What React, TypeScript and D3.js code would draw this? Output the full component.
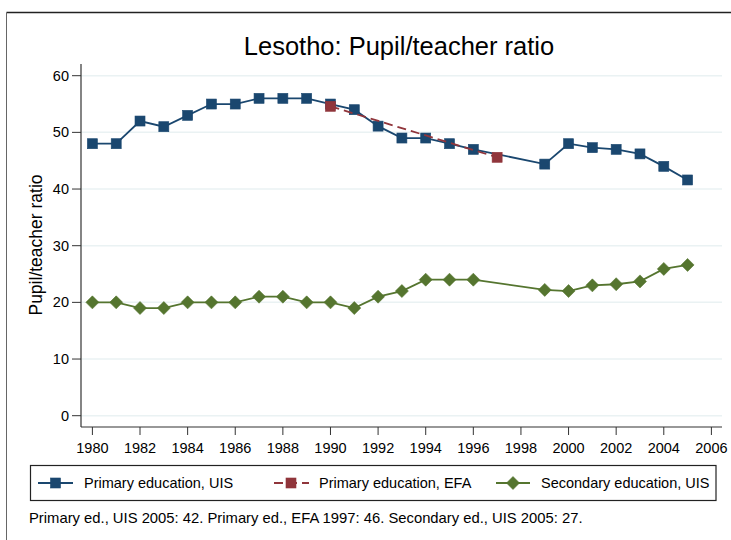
import React from "react";
import * as d3 from "d3";

const years = [1980,1981,1982,1983,1984,1985,1986,1987,1988,1989,1990,1991,1992,1993,1994,1995,1996,1999,2000,2001,2002,2003,2004,2005];
const primaryUIS = [48,48,52,51,53,55,55,56,56,56,55,54,51.1,49,49,48,47,44.4,48,47.3,47,46.2,44,41.6];
const efaYears = [1990, 1997];
const primaryEFA = [54.6, 45.6];
const secondaryUIS = [20,20,19,19,20,20,20,21,21,20,20,19,21,22,24,24,24,22.2,22,23,23.2,23.7,25.9,26.6];
const xTicks = [1980,1982,1984,1986,1988,1990,1992,1994,1996,1998,2000,2002,2004,2006];
const yTicks = [0,10,20,30,40,50,60];

const BLUE = "#1a476f";
const RED = "#90353b";
const GREEN = "#55752f";
const FONT = "Liberation Sans, Arial, sans-serif";

export default function App() {
  const x = d3.scaleLinear().domain([1980, 2006]).range([92.4, 711.4]);
  const y = d3.scaleLinear().domain([0, 60]).range([415.7, 75.7]);
  const plotL = 81, plotR = 722, plotT = 64, plotB = 427;

  const line = d3.line<[number, number]>().x(d => x(d[0])).y(d => y(d[1]));
  const pUIS: [number, number][] = years.map((yr, i) => [yr, primaryUIS[i]]);
  const pEFA: [number, number][] = efaYears.map((yr, i) => [yr, primaryEFA[i]]);
  const sUIS: [number, number][] = years.map((yr, i) => [yr, secondaryUIS[i]]);

  const sq = (cx: number, cy: number, color: string, key: any) => (
    <rect key={key} x={cx - 5} y={cy - 5} width={10} height={10} fill={color} stroke={color} strokeWidth={0.6} />
  );
  const dia = (cx: number, cy: number, color: string, key: any) => (
    <path key={key} d={`M${cx},${cy - 6.5}L${cx + 6.5},${cy}L${cx},${cy + 6.5}L${cx - 6.5},${cy}Z`} fill={color} stroke={color} strokeWidth={0.6} />
  );

  const legY = 483;
  return (
    <svg width={731} height={540} style={{ position: "absolute", left: 0, top: 0, background: "#fff" }} fontFamily={FONT}>
      <rect x={0} y={0} width={731} height={540} fill="#fff" />
      {/* outer frame */}
      <line x1={6.5} y1={12.5} x2={731} y2={12.5} stroke="#222" strokeWidth={1.5} />
      <line x1={6.5} y1={12.5} x2={6.5} y2={540} stroke="#666" strokeWidth={1} />

      <text x={399} y={55} textAnchor="middle" fontSize={25.5} fill="#000">Lesotho: Pupil/teacher ratio</text>

      {/* gridlines */}
      {yTicks.map(t => (
        <line key={"g" + t} x1={plotL} x2={plotR} y1={y(t)} y2={y(t)} stroke="#eaf2f3" strokeWidth={1.5} />
      ))}

      {/* axes */}
      <line x1={plotL} x2={plotL} y1={plotT} y2={plotB} stroke="#333" strokeWidth={1.2} />
      <line x1={plotL} x2={plotR} y1={plotB} y2={plotB} stroke="#333" strokeWidth={1.2} />
      {yTicks.map(t => (
        <g key={"yt" + t}>
          <line x1={72} x2={plotL} y1={y(t)} y2={y(t)} stroke="#333" strokeWidth={1} />
          <text x={69} y={y(t) + 5} textAnchor="end" fontSize={14.5} fill="#000">{t}</text>
        </g>
      ))}
      {xTicks.map(t => (
        <g key={"xt" + t}>
          <line x1={x(t)} x2={x(t)} y1={plotB} y2={plotB + 8} stroke="#333" strokeWidth={1} />
          <text x={x(t)} y={453} textAnchor="middle" fontSize={14.5} fill="#000">{t}</text>
        </g>
      ))}
      <text transform="translate(42,245) rotate(-90)" textAnchor="middle" fontSize={17.5} fill="#000">Pupil/teacher ratio</text>

      {/* series */}
      <path d={line(pUIS) || ""} fill="none" stroke={BLUE} strokeWidth={1.8} />
      {pUIS.map((d, i) => sq(x(d[0]), y(d[1]), BLUE, "b" + i))}
      <path d={line(sUIS) || ""} fill="none" stroke={GREEN} strokeWidth={1.8} />
      {sUIS.map((d, i) => dia(x(d[0]), y(d[1]), GREEN, "s" + i))}
      <path d={line(pEFA) || ""} fill="none" stroke={RED} strokeWidth={1.8} strokeDasharray="9,5" />
      {pEFA.map((d, i) => sq(x(d[0]), y(d[1]), RED, "r" + i))}

      {/* legend */}
      <rect x={30.5} y={465.5} width={685.5} height={35} fill="#fff" stroke="#222" strokeWidth={1.2} />
      <line x1={38} x2={73} y1={legY} y2={legY} stroke={BLUE} strokeWidth={1.8} />
      {sq(55.5, legY, BLUE, "lb")}
      <text x={84} y={legY + 5} fontSize={14.5} fill="#000">Primary education, UIS</text>
      <line x1={274} x2={309} y1={legY} y2={legY} stroke={RED} strokeWidth={1.8} strokeDasharray="9,5" />
      {sq(291, legY, RED, "lr")}
      <text x={319} y={legY + 5} fontSize={14.5} fill="#000">Primary education, EFA</text>
      <line x1={496} x2={530} y1={legY} y2={legY} stroke={GREEN} strokeWidth={1.8} />
      {dia(513, legY, GREEN, "lg")}
      <text x={541} y={legY + 5} fontSize={14.5} fill="#000">Secondary education, UIS</text>

      <text x={29} y={523} fontSize={14.8} fill="#000">Primary ed., UIS 2005: 42. Primary ed., EFA 1997: 46. Secondary ed., UIS 2005: 27.</text>
    </svg>
  );
}
